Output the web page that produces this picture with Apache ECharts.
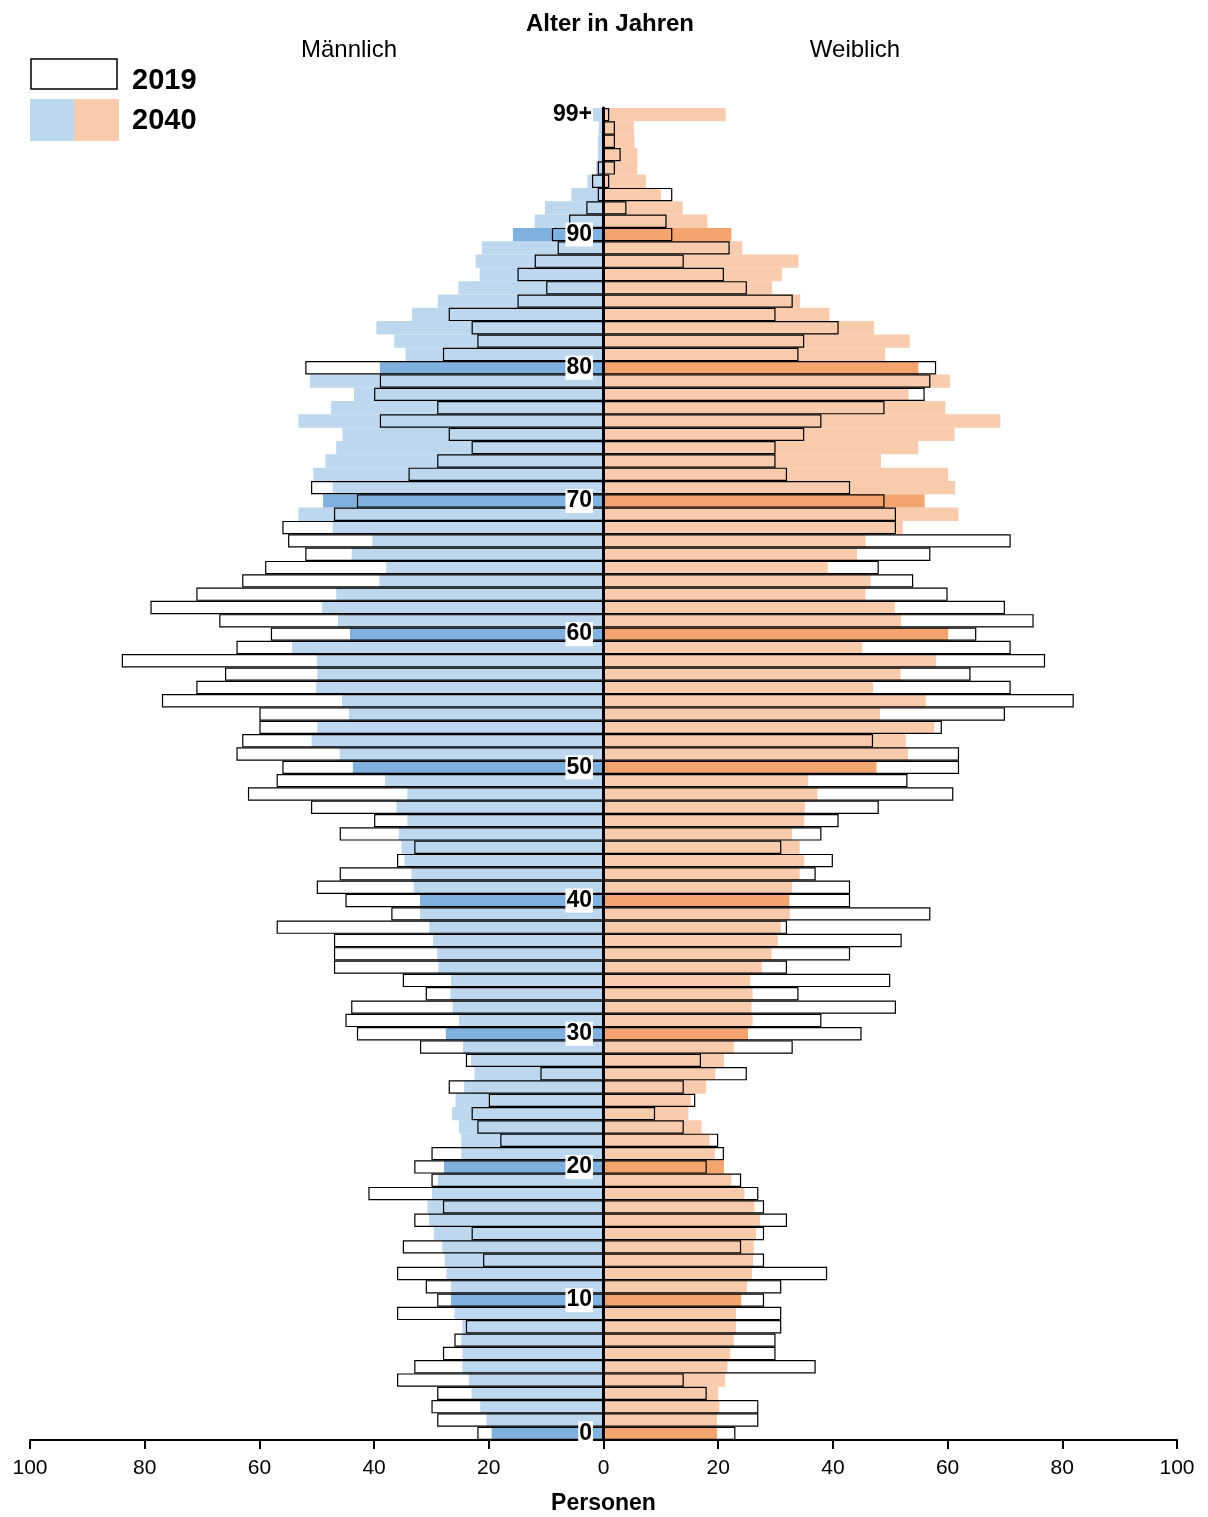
<!DOCTYPE html>
<html>
<head>
<meta charset="utf-8">
<script src="https://cdn.jsdelivr.net/npm/echarts@6/dist/echarts.min.js"></script>
<style>
html,body{margin:0;padding:0;background:#fff;}
#chart{width:1208px;height:1517px;}
</style>
</head>
<body>
<div id="chart"></div>
<script>
var ages = [];
for (var i = 0; i < 99; i++) ages.push(String(i));
ages.push('99+');

var labelledAges = ['0','10','20','30','40','50','60','70','80','90','99+'];

var male2019 = [22,29,30,29,36,33,28,26,24,36,29,31,36,21,35,23,33,28,41,30,33,30,18,22,23,20,27,11,24,32,43,45,44,31,35,47,47,47,57,37,45,50,46,36,33,46,40,51,62,57,56,64,63,60,60,77,71,66,84,64,58,67,79,71,63,59,52,55,56,47,43,51,34,29,23,27,39,29,40,39,52,28,22,23,27,15,10,15,12,8,9,6,3,1,2,1,0,0,0,0];
var male2040 = [19.5,20.4,21.5,23.0,23.5,24.6,24.6,24.8,24.6,26.0,26.6,26.6,27.4,27.7,28.1,29.6,30.4,30.7,29.9,28.9,27.8,24.8,24.8,25.2,26.4,25.8,24.3,22.5,23.1,24.5,27.5,25.2,26.3,26.7,26.6,28.8,29.0,29.7,30.4,32.0,32.0,33.1,33.5,34.7,35.2,35.7,34.2,36.1,34.2,38.1,43.7,46.0,50.9,49.9,44.4,45.6,50.1,49.9,50.0,54.3,44.2,46.3,49.1,46.6,39.1,37.9,43.9,40.3,47.2,53.2,48.9,47.2,50.6,48.5,46.6,45.5,53.2,47.5,43.5,51.2,39.0,34.5,36.5,39.6,33.4,28.9,25.3,21.6,22.3,21.2,15.8,12.0,10.2,5.6,2.8,1.3,1.0,1.0,0.85,2.0];
var female2019 = [23,27,27,18,14,37,30,30,31,31,28,31,39,28,24,28,32,28,27,24,18,21,20,14,9,16,14,25,17,33,45,38,51,34,50,32,43,52,32,57,43,43,37,40,31,38,41,48,61,53,62,62,47,59,70,82,71,64,77,71,65,75,70,60,54,48,57,71,51,51,49,43,32,30,30,35,38,49,56,57,58,34,35,41,30,33,25,21,14,22,12,11,4,12,1,2,3,2,2,1];
var female2040 = [19.8,19.8,20.2,20.0,21.2,21.6,22.1,22.7,23.1,23.1,24.0,25.0,25.9,26.1,26.2,26.6,27.3,26.3,24.6,22.3,21.0,19.4,18.5,17.1,14.8,15.2,17.9,19.5,21.0,22.7,25.2,26.0,25.8,26.0,25.6,27.6,29.3,30.4,30.9,32.5,32.4,32.9,34.2,35.0,34.2,32.9,35.0,35.1,37.3,35.7,47.6,53.1,52.7,57.7,48.2,56.2,47.0,51.8,58.0,45.1,60.1,51.9,50.8,45.7,46.6,39.1,44.2,45.7,52.2,61.9,56.0,61.3,60.1,48.4,54.9,61.2,69.2,59.6,53.2,60.4,54.9,49.1,53.4,47.2,39.4,34.3,29.4,31.1,34.0,24.2,22.3,18.1,13.8,10.0,7.4,5.9,5.9,5.4,5.3,21.3];

var C = {
  blueLight: '#bdd7ee', blueDark: '#7fb0de',
  orangeLight: '#f8cbad', orangeDark: '#f4a56f'
};

function filled(arr, sign, light, dark) {
  return arr.map(function (v, i) {
    return { value: sign * v, itemStyle: { color: (i % 10 === 0) ? dark : light } };
  });
}
function signed(arr, sign) { return arr.map(function (v) { return sign * v; }); }

var FONT = 'Liberation Sans, Arial, sans-serif';
var chart = echarts.init(document.getElementById('chart'), null, { renderer: 'canvas' });

var outline = { color: 'rgba(0,0,0,0)', borderColor: '#000', borderWidth: 1.2 };

chart.setOption({
  animation: false,
  backgroundColor: '#fff',
  textStyle: { fontFamily: FONT },
  grid: { left: 30, right: 31, top: 108, bottom: 77, containLabel: false, outerBoundsMode: 'none' },
  xAxis: {
    type: 'value', min: -100, max: 100, interval: 20,
    axisLine: { show: true, lineStyle: { color: '#000', width: 2 } },
    axisTick: { show: true, length: 9, lineStyle: { color: '#000', width: 2 } },
    splitLine: { show: false },
    axisLabel: { color: '#000', fontSize: 21, fontFamily: FONT, margin: 18,
      formatter: function (v) { return String(Math.abs(v)); } },
    name: 'Personen', nameLocation: 'middle', nameGap: 52,
    nameTextStyle: { color: '#000', fontSize: 23, fontWeight: 'bold', fontFamily: FONT }
  },
  yAxis: {
    type: 'category', data: ages, z: 10,
    axisLine: { show: true, onZero: true, lineStyle: { color: '#000', width: 3 } },
    axisTick: { show: false },
    axisLabel: { show: false }
  },
  series: [
    { name: 'M2040', type: 'bar', data: filled(male2040, -1, C.blueLight, C.blueDark),
      barGap: '-100%', barCategoryGap: '0%', z: 2 },
    { name: 'F2040', type: 'bar', data: filled(female2040, 1, C.orangeLight, C.orangeDark),
      barGap: '-100%', barCategoryGap: '0%', z: 2 },
    { name: 'M2019', type: 'bar', data: signed(male2019, -1), itemStyle: outline,
      barGap: '-100%', barCategoryGap: '0%', z: 3 },
    { name: 'F2019', type: 'bar', data: signed(female2019, 1), itemStyle: outline,
      barGap: '-100%', barCategoryGap: '0%', z: 3 },
    { name: 'ageLabels', type: 'scatter', z: 20, symbolSize: 1, silent: true,
      itemStyle: { opacity: 0 },
      data: labelledAges.map(function (a) { return [0, a]; }),
      label: {
        show: true, position: 'left', distance: 10,
        formatter: function (p) { return p.value[1]; },
        color: '#000', opacity: 1, fontSize: 23, fontWeight: 'bold', fontFamily: FONT,
        textBorderWidth: 0, backgroundColor: '#fff', padding: [1, 1, 0, 1]
      } }
  ],
  graphic: [
    { type: 'text', x: 610, y: 24,
      style: { text: 'Alter in Jahren', font: 'bold 24px Liberation Sans, Arial, sans-serif', fill: '#000', textAlign: 'center', textVerticalAlign: 'middle' } },
    { type: 'text', x: 349, y: 50,
      style: { text: 'Männlich', font: '24px Liberation Sans, Arial, sans-serif', fill: '#000', textAlign: 'center', textVerticalAlign: 'middle' } },
    { type: 'text', x: 855, y: 50,
      style: { text: 'Weiblich', font: '24px Liberation Sans, Arial, sans-serif', fill: '#000', textAlign: 'center', textVerticalAlign: 'middle' } },
    { type: 'rect', shape: { x: 31, y: 59, width: 86, height: 30 },
      style: { fill: '#fff', stroke: '#000', lineWidth: 1.5 } },
    { type: 'text', x: 132, y: 81,
      style: { text: '2019', font: 'bold 29px Liberation Sans, Arial, sans-serif', fill: '#000', textVerticalAlign: 'middle' } },
    { type: 'rect', shape: { x: 30, y: 99, width: 44, height: 42 }, style: { fill: C.blueLight } },
    { type: 'rect', shape: { x: 74, y: 99, width: 45, height: 42 }, style: { fill: C.orangeLight } },
    { type: 'text', x: 132, y: 121,
      style: { text: '2040', font: 'bold 29px Liberation Sans, Arial, sans-serif', fill: '#000', textVerticalAlign: 'middle' } }
  ]
});
</script>
</body>
</html>
